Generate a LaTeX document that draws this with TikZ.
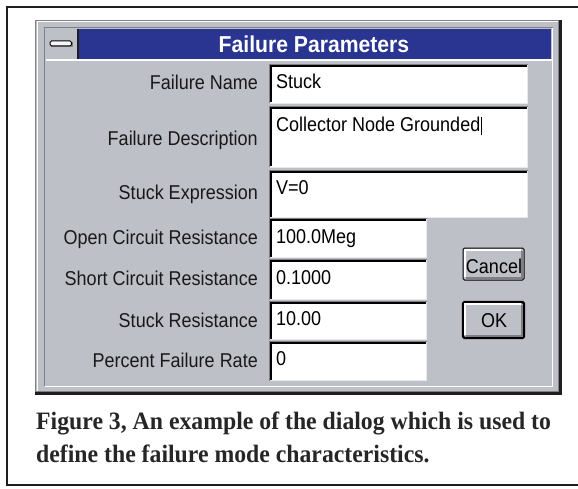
\documentclass[tikz,border=0pt]{standalone}
\usepackage{fontspec}
\setmainfont{Liberation Sans}
\newfontfamily\dlgfont[FakeStretch=0.9]{Liberation Sans}
\newfontfamily\ttlfont[FakeStretch=0.92]{Liberation Sans}
\newfontfamily\capfont[FakeStretch=0.95]{Liberation Serif}
\definecolor{dlg}{RGB}{190,192,200}
\definecolor{ttl}{RGB}{42,52,145}
\definecolor{dkedge}{RGB}{30,30,30}
\definecolor{midedge}{RGB}{128,128,132}
\definecolor{lightedge}{RGB}{232,232,236}
\newcommand\sunkfield[4]{%
  \fill[white] (#1,#2) rectangle (#3,#4);
  \draw[line width=1pt, color=lightedge] (#1-0.5,#4+0.5) -- (#3+0.5,#4+0.5) -- (#3+0.5,#2-0.5);
  \draw[line width=1pt, color=midedge] (#1-0.5,#4+0.5) -- (#1-0.5,#2-0.5) -- (#3+0.5,#2-0.5);
  \draw[line width=1.8pt, black] (#1+0.9,#4-0.5) -- (#1+0.9,#2+0.9) -- (#3-0.5,#2+0.9);
}
\newcommand\raisedbtn[5]{% x1 y1 x2 y2 border
  \fill[dlg] (#1,#2) rectangle (#3,#4);
  \draw[line width=#5, black, rounded corners=1.5pt] (#1,#2) rectangle (#3,#4);
  \draw[line width=1.5pt, white] (#1+2,#4-3) -- (#1+2,#2+2) -- (#3-3,#2+2);
  \draw[line width=2pt, color=midedge] (#1+2.5,#4-2.5) -- (#3-2.5,#4-2.5) -- (#3-2.5,#2+2.5);
}
\tikzset{
  lbl/.style={font=\dlgfont\fontsize{20}{22}\selectfont, inner sep=0pt, anchor=base east, text=black!90},
  val/.style={font=\dlgfont\fontsize{20}{22}\selectfont, inner sep=0pt, anchor=base west, text=black},
  btntxt/.style={font=\dlgfont\fontsize{20}{22}\selectfont, inner sep=0pt, anchor=base, text=black},
  captxt/.style={font=\capfont\bfseries\fontsize{25}{28}\selectfont, inner sep=0pt, anchor=base west, text=black!85}
}
\begin{document}
\begin{tikzpicture}[x=1pt,y=-1pt]
\useasboundingbox (0,0) rectangle (578,489);
\fill[white] (0,0) rectangle (578,489);
% outer frame
\draw[line width=2pt, color=dkedge] (7,7) rectangle (590,485);
% dialog body
\fill[dlg] (35,20) rectangle (561,394);
\draw[line width=1pt, color=midedge] (35.5,393) -- (35.5,20.5) -- (560,20.5);
\draw[line width=1pt, white] (37,392) -- (37,22) -- (558,22);
\draw[line width=2.2pt, color=dkedge] (35,393.5) -- (560.5,393.5) -- (560.5,20);
\draw[line width=1pt, color=midedge] (36,391.5) -- (558.5,391.5) -- (558.5,21.5);
\draw[line width=1pt, color=midedge] (44.5,386) -- (44.5,27.5) -- (553,27.5);
\draw[line width=1pt, white] (45,386.5) -- (552.5,386.5) -- (552.5,28);
% title bar
\fill[ttl] (78,29) rectangle (551,59);
\fill[dlg] (46,29) rectangle (78,59);
\draw[line width=2pt, color=dkedge] (78,29) -- (78,59);
\draw[line width=1.2pt, white] (46,60) -- (552,60);
\fill[midedge] (51,42.5) rectangle (73,47.5);
\draw[line width=1pt, black, fill=white!85!dlg, rounded corners=1.5pt] (50,41) rectangle (71.5,46);
\node[font=\ttlfont\bfseries\fontsize{23}{25}\selectfont, text=white, inner sep=0pt, anchor=base] (title) at (314,53) {Failure Parameters};
% fields
\sunkfield{270}{65}{527}{103}
\sunkfield{270}{107}{527}{167}
\sunkfield{270}{171}{527}{217}
\sunkfield{270}{219}{426}{257}
\sunkfield{270}{260}{426}{299}
\sunkfield{270}{302}{426}{339}
\sunkfield{270}{342}{426}{380}
% labels
\node[lbl] (l1) at (258,90) {Failure Name};
\node[lbl] (l2) at (258,146) {Failure Description};
\node[lbl] (l3) at (258,200) {Stuck Expression};
\node[lbl] (l4) at (258,244) {Open Circuit Resistance};
\node[lbl] (l5) at (258,285) {Short Circuit Resistance};
\node[lbl] (l6) at (258,327) {Stuck Resistance};
\node[lbl] (l7) at (258,367) {Percent Failure Rate};
% values
\node[val] (v1) at (276,89) {Stuck};
\node[val] (v2) at (276,132) {Collector Node Grounded};
\draw[line width=1.2pt, black] (v2.base east) ++(1,3) -- ++(0,-18);
\node[val] (v3) at (276,195) {V=0};
\node[val] (v4) at (276,243) {100.0Meg};
\node[val] (v5) at (276,284) {0.1000};
\node[val] (v6) at (276,325) {10.00};
\node[val] (v7) at (276,365) {0};
% buttons
\raisedbtn{463}{248}{524}{280}{1pt}
\node[btntxt] (cancel) at (494,273) {Cancel};
\raisedbtn{463}{302}{524}{338}{2.2pt}
\node[btntxt] (ok) at (494,327) {OK};
% caption
\node[captxt] (cap1) at (36,429) {Figure 3, An example of the dialog which is used to};
\node[captxt] (cap2) at (36,462) {define the failure mode characteristics.};
\end{tikzpicture}
\end{document}
